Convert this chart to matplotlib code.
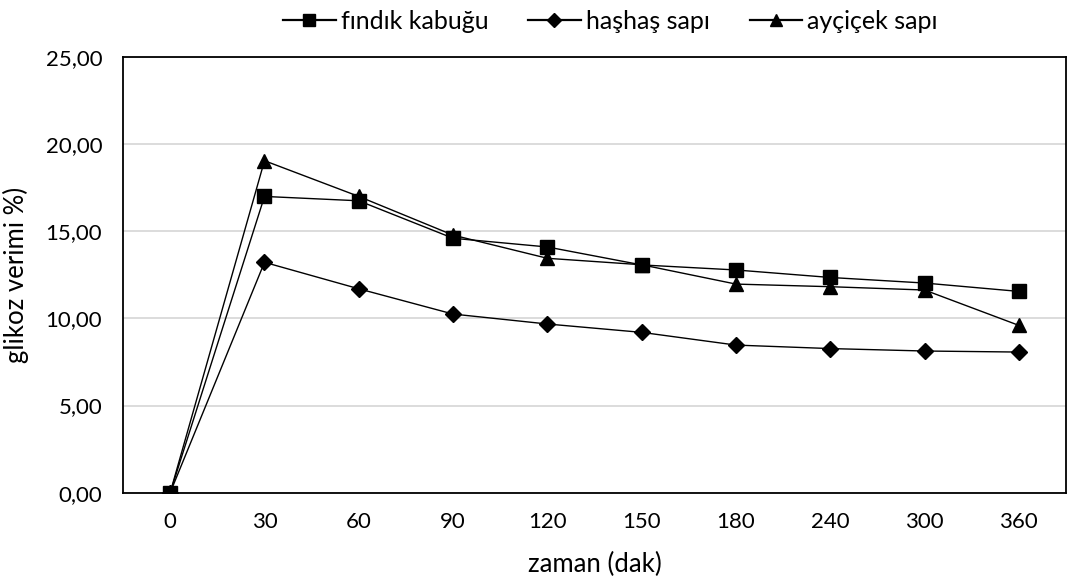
import matplotlib
matplotlib.use("Agg")
import matplotlib.pyplot as plt
from matplotlib.ticker import FuncFormatter

plt.rcParams['font.family'] = ['Lato', 'DejaVu Sans']

# zaman (dak) kategorileri
zaman = ["0", "30", "60", "90", "120", "150", "180", "240", "300", "360"]

# glikoz verimi (%)
findik_kabugu = [0.00, 17.00, 16.75, 14.60, 14.10, 13.07, 12.78, 12.35, 12.03, 11.55]
hashas_sapi = [0.00, 13.22, 11.70, 10.25, 9.68, 9.20, 8.47, 8.27, 8.13, 8.07]
aycicek_sapi = [0.00, 19.05, 17.00, 14.78, 13.45, 13.08, 11.97, 11.82, 11.63, 9.60]

fig = plt.figure(figsize=(10.67, 5.83), dpi=100)
ax = fig.add_axes([0.1153, 0.1549, 0.8838, 0.7473])

x = list(range(len(zaman)))
ax.plot(x, findik_kabugu, color="black", lw=1.0, marker="s", ms=10, label="fındık kabuğu", zorder=3)
ax.plot(x, hashas_sapi, color="black", lw=1.0, marker="D", ms=8, label="haşhaş sapı", zorder=3)
ax.plot(x, aycicek_sapi, color="black", lw=1.0, marker="^", ms=10, label="ayçiçek sapı", zorder=3)

ax.set_xlim(-0.5, len(zaman) - 0.5)
ax.set_ylim(0, 25)
ax.set_xticks(x)
ax.set_xticklabels(zaman)
ax.set_yticks([0, 5, 10, 15, 20, 25])
ax.yaxis.set_major_formatter(FuncFormatter(lambda v, p: f"{v:.2f}".replace(".", ",")))
ax.tick_params(length=0, labelsize=16)
ax.tick_params(axis="x", pad=14)
ax.tick_params(axis="y", pad=15)

ax.grid(axis="y", color="#d9d9d9", lw=1.3, zorder=0)
for s in ax.spines.values():
    s.set_color("black")
    s.set_linewidth(1.3)

ax.set_xlabel("zaman (dak)", fontsize=18.5)
ax.set_ylabel("glikoz verimi %)", fontsize=18.5)
ax.xaxis.set_label_coords(0.5, -0.137)
ax.yaxis.set_label_coords(-0.1, 0.5)

leg = fig.legend(loc="upper center", bbox_to_anchor=(0.572, 1.022), ncol=3, frameon=False,
                 fontsize=18, handlelength=2.1, columnspacing=1.6, handletextpad=0.2,
                 markerscale=0.9)
for h in leg.legend_handles:
    h.set_linewidth(1.6)

fig.savefig("out.png", dpi=100)
